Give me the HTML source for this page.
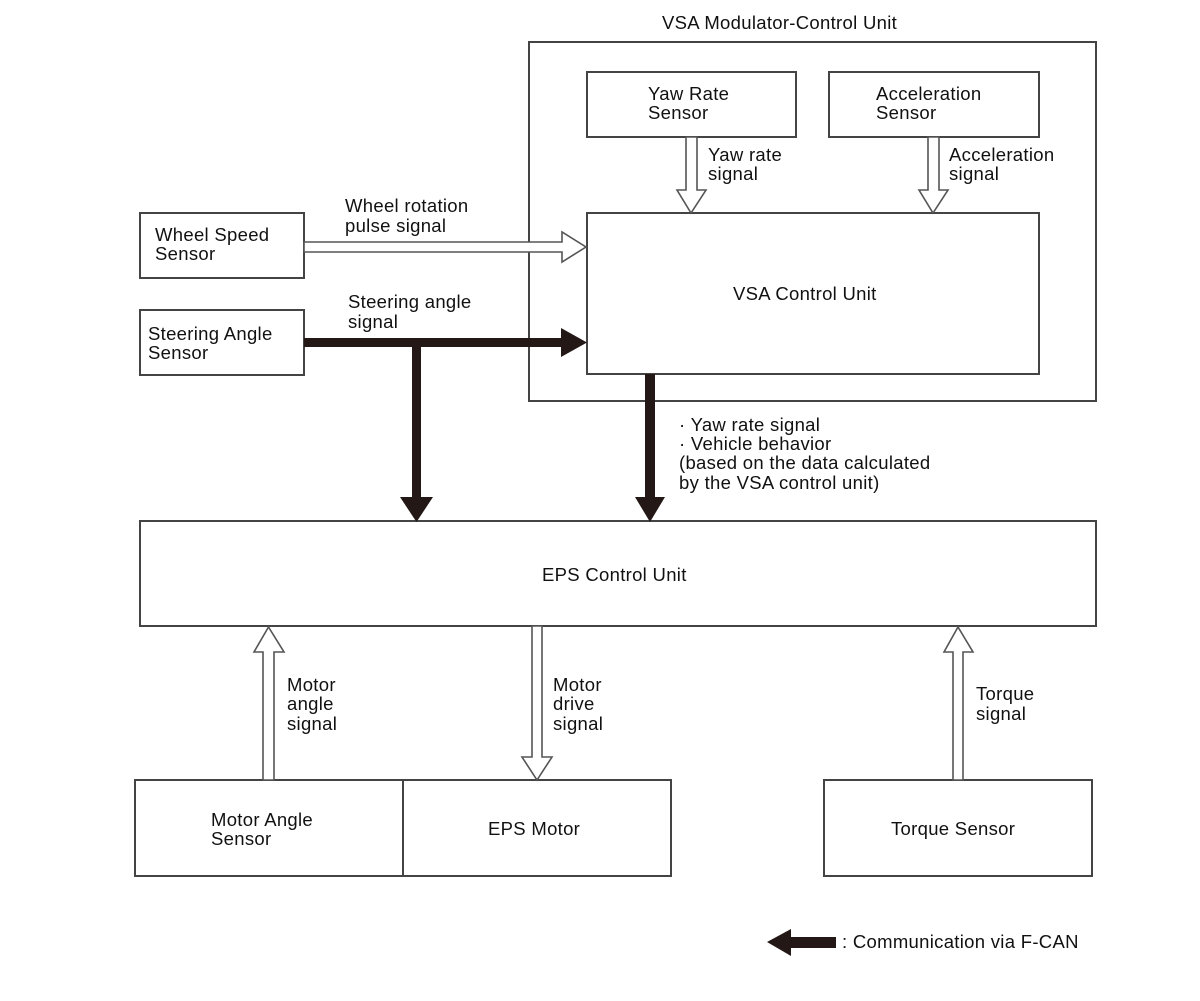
<!DOCTYPE html>
<html><head><meta charset="utf-8"><style>
html,body{margin:0;padding:0;background:#fff;}
svg{display:block;}
text{font-family:"Liberation Sans",Arial,sans-serif;font-size:18.5px;letter-spacing:0.3px;fill:#111;}
</style></head><body>
<svg width="1200" height="1001" viewBox="0 0 1200 1001" xmlns="http://www.w3.org/2000/svg">
<g fill="#fff" stroke="#444" stroke-width="2">
<rect x="529" y="42" width="567" height="359"/>
<rect x="587" y="72" width="209" height="65"/>
<rect x="829" y="72" width="210" height="65"/>
<rect x="587" y="213" width="452" height="161"/>
<rect x="140" y="213" width="164" height="65"/>
<rect x="140" y="310" width="164" height="65"/>
<rect x="140" y="521" width="956" height="105"/>
<rect x="135" y="780" width="268" height="96"/>
<rect x="403" y="780" width="268" height="96"/>
<rect x="824" y="780" width="268" height="96"/>
</g>
<g fill="#fff" stroke="#555" stroke-width="1.6">
<path d="M304,242 L562,242 L562,232 L586,247 L562,262 L562,252 L304,252 Z"/>
<path d="M686,137 L686,190 L677,190 L691,213 L706,190 L697,190 L697,137 Z"/>
<path d="M928,137 L928,190 L919,190 L933,213 L948,190 L939,190 L939,137 Z"/>
<path d="M263,780 L263,652 L254,652 L268.5,627 L284,652 L274,652 L274,780 Z"/>
<path d="M532,626 L532,757 L522,757 L537,780 L552,757 L542,757 L542,626 Z"/>
<path d="M953,780 L953,652 L944,652 L958,627 L973,652 L963,652 L963,780 Z"/>
</g>
<g fill="#231815">
<path d="M304,338 L561,338 L561,328 L587,342.5 L561,357 L561,347 L421,347 L421,497 L433,497 L416.5,522 L400,497 L412,497 L412,347 L304,347 Z"/>
<path d="M645,374 L655,374 L655,497 L665,497 L650,522 L635,497 L645,497 Z"/>
<path d="M767,942 L791,929 L791,937 L836,937 L836,948 L791,948 L791,956 Z"/>
</g>
<text x="662" y="29">VSA Modulator-Control Unit</text>
<text x="648" y="100">Yaw Rate</text><text x="648" y="119">Sensor</text>
<text x="876" y="100">Acceleration</text><text x="876" y="119">Sensor</text>
<text x="708" y="161">Yaw rate</text><text x="708" y="180">signal</text>
<text x="949" y="161">Acceleration</text><text x="949" y="180">signal</text>
<text x="345" y="212">Wheel rotation</text><text x="345" y="232">pulse signal</text>
<text x="155" y="241">Wheel Speed</text><text x="155" y="260">Sensor</text>
<text x="348" y="308">Steering angle</text><text x="348" y="328">signal</text>
<text x="148" y="340">Steering Angle</text><text x="148" y="359">Sensor</text>
<text x="733" y="300">VSA Control Unit</text>
<text x="679" y="431">· Yaw rate signal</text>
<text x="679" y="450">· Vehicle behavior</text>
<text x="679" y="469">(based on the data calculated</text>
<text x="679" y="489">by the VSA control unit)</text>
<text x="542" y="581">EPS Control Unit</text>
<text x="287" y="691">Motor</text><text x="287" y="710">angle</text><text x="287" y="730">signal</text>
<text x="553" y="691">Motor</text><text x="553" y="710">drive</text><text x="553" y="730">signal</text>
<text x="976" y="700">Torque</text><text x="976" y="720">signal</text>
<text x="211" y="826">Motor Angle</text><text x="211" y="845">Sensor</text>
<text x="488" y="835">EPS Motor</text>
<text x="891" y="835">Torque Sensor</text>
<text x="842" y="948">: Communication via F-CAN</text>
</svg>
</body></html>
